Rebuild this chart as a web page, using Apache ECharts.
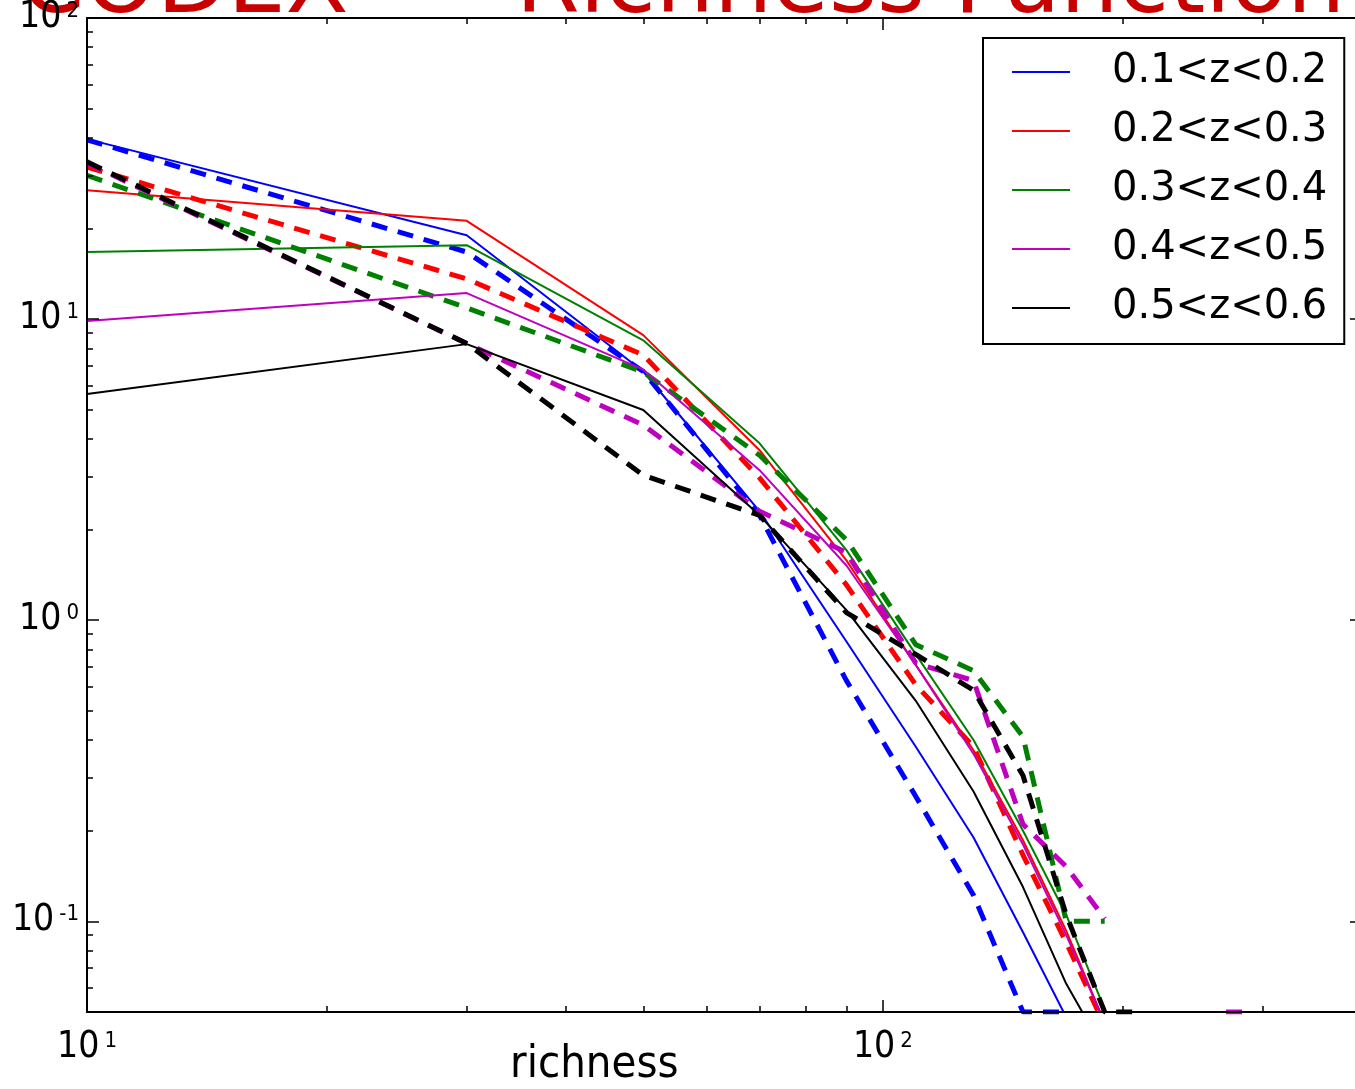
<!DOCTYPE html>
<html>
<head>
<meta charset="utf-8">
<script src="https://cdn.jsdelivr.net/npm/echarts@6/dist/echarts.min.js"></script>
<style>
  html, body { margin: 0; padding: 0; background: #fff; overflow: hidden; }
  #chart { width: 1380px; height: 1089px; }
</style>
</head>
<body>
<div id="chart"></div>
<script>
// ---- data ----
const titleWord1 = 'CODEX';
const titleWord2 = 'Richness Function';
const xTitle = 'richness';
const xBins = [10, 30, 50, 70, 90, 110, 130, 150, 170, 190, 210, 230, 250, 270, 290];
const seriesNames = ['0.1<z<0.2', '0.2<z<0.3', '0.3<z<0.4', '0.4<z<0.5', '0.5<z<0.6'];
const seriesColors = ['#0000ff', '#ff0000', '#008000', '#bf00bf', '#000000'];

// solid lines
const solid01 = [39.6, 19.0, 6.7, 2.3, 0.85, 0.38, 0.19, 0.092, 0.048];
const solid02 = [26.8, 21.2, 8.85, 3.67, 1.58, 0.71, 0.37, 0.186, 0.093, 0.046];
const solid03 = [16.7, 17.6, 8.5, 3.87, 1.71, 0.77, 0.40, 0.20, 0.105, 0.051, 0.02];
const solid04 = [9.85, 12.2, 6.8, 3.15, 1.52, 0.71, 0.36, 0.18, 0.09, 0.046];
const solid05 = [5.64, 8.26, 4.99, 2.23, 1.08, 0.54, 0.27, 0.13, 0.062, 0.037];

// dashed lines
const dash01 = [39.4, 16.7, 6.7, 2.23, 0.63, 0.26, 0.122, 0.05, 0.05];
const dash02 = [32, 13.6, 7.6, 2.97, 1.31, 0.61, 0.38, 0.166, 0.085, 0.045];
const dash03 = [30, 10.9, 6.67, 3.53, 1.85, 0.83, 0.68, 0.41, 0.1, 0.1];
const dash04 = [33, 8.3, 4.45, 2.3, 1.68, 0.72, 0.63, 0.21, 0.152, 0.102, null, null, null, 0.05, 0.05];
const dash05 = [33.3, 8.3, 3.03, 2.23, 1.06, 0.77, 0.585, 0.305, 0.105, 0.05, 0.05];

const xMajorTicks = [10, 100];
const xMinorTicks = [20, 30, 40, 50, 60, 70, 80, 90, 200, 300];
const yMajorTicks = [0.1, 1, 10, 100];
const yMinorTicks = [0.06, 0.07, 0.08, 0.09, 0.2, 0.3, 0.4, 0.5, 0.6, 0.7, 0.8, 0.9,
                     2, 3, 4, 5, 6, 7, 8, 9, 20, 30, 40, 50, 60, 70, 80, 90];
const xMin = 10, xMax = 400, yMin = 0.05, yMax = 100;

const solids = [solid01, solid02, solid03, solid04, solid05];
const dashes = [dash01, dash02, dash03, dash04, dash05];

function pairs(vals) {
  const out = [];
  for (let i = 0; i < vals.length; i++) out.push([xBins[i], vals[i] == null ? null : vals[i]]);
  return out;
}

const tickFont = '"DejaVu Sans Condensed", "Liberation Sans Narrow", "DejaVu Sans", sans-serif';
const richLabel = {
  b: { fontSize: 37, fontFamily: tickFont, color: '#000', verticalAlign: 'bottom', lineHeight: 36 },
  s: { fontSize: 22, fontFamily: tickFont, color: '#000', verticalAlign: 'top', lineHeight: 22, padding: [0, 0, 20, 5] }
};
function expFmt(v) {
  const e = Math.round(Math.log10(v));
  return '{b|10}{s|' + e + '}';
}

const grid = { left: 87, top: 18, width: 1275, height: 994, containLabel: false, outerBoundsMode: 'none' };

function logAxis(kind, pos, major, showLabel, isMinor) {
  return {
    type: 'log', logBase: 10, position: pos, gridIndex: 0,
    min: kind === 'x' ? xMin : yMin, max: kind === 'x' ? xMax : yMax,
    axisLine: { show: !isMinor, lineStyle: { color: '#000', width: 2 } },
    splitLine: { show: false }, minorTick: { show: false }, minorSplitLine: { show: false },
    axisTick: { show: true, inside: true, length: isMinor ? 6 : 12,
      lineStyle: { color: '#000', width: 1.5 }, customValues: major },
    axisLabel: { show: showLabel, customValues: major, formatter: expFmt, rich: richLabel,
      margin: kind === 'x' ? 18 : 8 },
    z: 10
  };
}

const xAxes = [
  logAxis('x', 'bottom', xMajorTicks, true, false),
  logAxis('x', 'bottom', xMinorTicks, false, true),
  logAxis('x', 'top', xMajorTicks, false, false),
  logAxis('x', 'top', xMinorTicks, false, true)
];
const yAxes = [
  logAxis('y', 'left', yMajorTicks, true, false),
  logAxis('y', 'left', yMinorTicks, false, true),
  logAxis('y', 'right', yMajorTicks, false, false),
  logAxis('y', 'right', yMinorTicks, false, true)
];

const series = [];
for (let i = 0; i < 5; i++) {
  series.push({
    name: seriesNames[i], type: 'line', data: pairs(solids[i]),
    xAxisIndex: 0, yAxisIndex: 0, showSymbol: false, symbol: 'none', clip: true,
    lineStyle: { color: seriesColors[i], width: 2 }, itemStyle: { color: seriesColors[i] },
    silent: true, animation: false
  });
  series.push({
    name: seriesNames[i] + ' (dashed)', type: 'line', data: pairs(dashes[i]),
    xAxisIndex: 0, yAxisIndex: 0, showSymbol: false, symbol: 'none', clip: true,
    lineStyle: { color: seriesColors[i], width: 5, type: [16, 11] }, itemStyle: { color: seriesColors[i] },
    silent: true, animation: false
  });
}

const titleFont = '"DejaVu Sans", Verdana, sans-serif';
const chart = echarts.init(document.getElementById('chart'), null, { renderer: 'canvas' });
chart.setOption({
  backgroundColor: '#fff',
  animation: false,
  title: {
    text: '{a|' + titleWord1 + '} {b|' + titleWord2 + '}', left: 15, top: -63,
    textStyle: {
      fontSize: 92, color: '#c80000', fontFamily: titleFont,
      rich: {
        a: { fontSize: 92, fontWeight: 'normal', color: '#c80000', fontFamily: titleFont },
        b: { fontSize: 92, fontWeight: 'normal', color: '#c80000', fontFamily: titleFont, padding: [0, 0, 0, 135] }
      }
    }
  },
  graphic: [{
    type: 'text', left: 510, top: 1043, z: 30,
    style: { text: xTitle, fill: '#000', font: '45px ' + tickFont }
  }],
  grid: grid,
  legend: {
    data: seriesNames, orient: 'vertical', left: 983, top: 38,
    icon: 'rect', itemWidth: 58, itemHeight: 2, itemGap: 19,
    padding: [14, 17, 16, 29],
    borderColor: '#000', borderWidth: 2, backgroundColor: '#fff',
    textStyle: { fontSize: 40, lineHeight: 40, fontFamily: '"DejaVu Sans", sans-serif', color: '#000', padding: [0, 0, 0, 37] },
    z: 20
  },
  xAxis: xAxes,
  yAxis: yAxes,
  series: series
});
</script>
</body>
</html>
